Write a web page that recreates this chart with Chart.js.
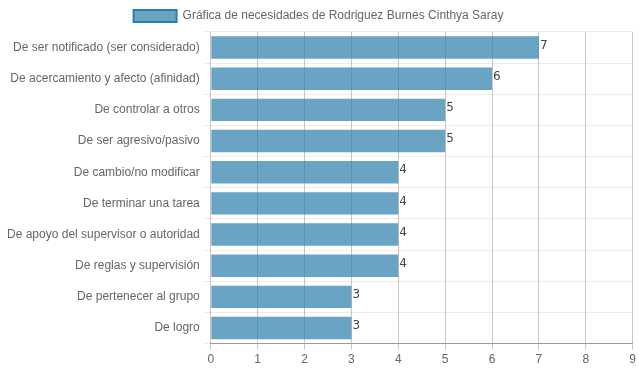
<!DOCTYPE html>
<html>
<head>
<meta charset="utf-8">
<script src="https://cdn.jsdelivr.net/npm/chart.js@4/dist/chart.umd.min.js"></script>
<style>
  html, body { margin: 0; padding: 0; background: #fff; }
  #wrap { width: 639px; height: 372px; }
</style>
</head>
<body>
<div id="wrap"><canvas id="chart"></canvas></div>
<script>
var categories = [
  'De ser notificado (ser considerado)',
  'De acercamiento y afecto (afinidad)',
  'De controlar a otros',
  'De ser agresivo/pasivo',
  'De cambio/no modificar',
  'De terminar una tarea',
  'De apoyo del supervisor o autoridad',
  'De reglas y supervisión',
  'De pertenecer al grupo',
  'De logro'
];
var values = [7, 6, 5, 5, 4, 4, 4, 4, 3, 3];
var seriesLabel = 'Gráfica de necesidades de Rodriguez Burnes Cinthya Saray';
var xTicks = [0, 1, 2, 3, 4, 5, 6, 7, 8, 9];

Chart.defaults.font.family = '"Liberation Sans", Arial, sans-serif';
Chart.defaults.font.size = 12;
Chart.defaults.color = '#666';

// writes the value just past the end of each bar
var valueLabels = {
  id: 'valueLabels',
  afterDatasetsDraw: function (chart) {
    var ctx = chart.ctx;
    var meta = chart.getDatasetMeta(0);
    ctx.save();
    ctx.fillStyle = '#444';
    ctx.font = '12px "DejaVu Sans", sans-serif';
    ctx.textAlign = 'left';
    ctx.textBaseline = 'middle';
    meta.data.forEach(function (bar, i) {
      ctx.fillText(String(values[i]), bar.x + 1, bar.y - 2);
    });
    ctx.restore();
  }
};

new Chart(document.getElementById('chart'), {
  type: 'bar',
  data: {
    labels: categories,
    datasets: [{
      label: seriesLabel,
      data: values,
      backgroundColor: 'rgba(42,126,172,0.7)',
      borderColor: 'rgba(42,126,172,1)',
      borderWidth: 0
    }]
  },
  options: {
    indexAxis: 'y',
    responsive: true,
    maintainAspectRatio: false,
    animation: false,
    layout: { padding: { left: 4, right: 6, top: 0, bottom: 2 } },
    plugins: {
      legend: {
        labels: {
          boxWidth: 43,
          boxHeight: 12,
          generateLabels: function (chart) {
            var items = Chart.defaults.plugins.legend.labels.generateLabels(chart);
            items.forEach(function (it) { it.lineWidth = 2; });
            return items;
          }
        }
      },
      tooltip: { enabled: false }
    },
    scales: {
      x: {
        min: 0,
        max: 9,
        afterBuildTicks: function (scale) {
          scale.ticks = xTicks.map(function (v) { return { value: v }; });
        },
        grid: { color: 'rgba(0,0,0,0.22)', drawTicks: true, tickLength: 6 },
        border: { color: 'rgba(0,0,0,0.35)' },
        ticks: { color: '#666' }
      },
      y: {
        grid: { color: 'rgba(0,0,0,0.07)', drawTicks: true, tickLength: 8 },
        border: { display: false },
        ticks: { color: '#666' }
      }
    }
  },
  plugins: [valueLabels]
});
</script>
</body>
</html>
